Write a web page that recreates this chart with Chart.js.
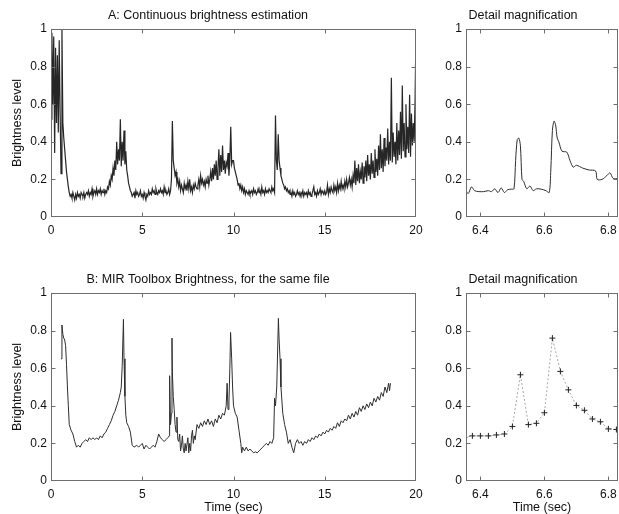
<!DOCTYPE html>
<html lang="en">
<head>
<meta charset="UTF-8">
<title>Brightness estimation</title>
<script src="https://cdn.jsdelivr.net/npm/chart.js"></script>
<style>
    body { margin: 0; background: #fff; }
    #wrap { position: relative; width: 619px; height: 514px; }
    .panel { position: absolute; }
</style>
</head>
<body>
<div id="wrap">
    <div class="panel" style="left:0;top:0;width:430px;height:246px"><canvas id="chartA"></canvas></div>
    <div class="panel" style="left:428px;top:0;width:191px;height:246px"><canvas id="chartAd"></canvas></div>
    <div class="panel" style="left:0;top:264px;width:430px;height:250px"><canvas id="chartB"></canvas></div>
    <div class="panel" style="left:428px;top:264px;width:191px;height:250px"><canvas id="chartBd"></canvas></div>
</div>

<script>
    // A: continuous estimate, one value every 0.05 s from 0 to 20 s
    const stepA = 0.05;
    const brightA = [
        0.52,0.98,0.60,0.96,0.34,0.90,0.50,0.86,0.45,0.94,0.55,0.23,1.00,0.50,0.42,0.36,0.30,0.24,0.20,0.16,
        0.13,0.11,0.12,0.10,0.13,0.11,0.09,0.12,0.10,0.13,0.11,0.12,0.10,0.13,0.12,0.11,0.13,0.10,0.12,0.13,
        0.12,0.14,0.11,0.13,0.12,0.15,0.11,0.13,0.14,0.12,0.15,0.12,0.14,0.13,0.15,0.12,0.14,0.13,0.15,0.12,
        0.14,0.13,0.16,0.15,0.19,0.17,0.22,0.20,0.26,0.22,0.30,0.25,0.40,0.28,0.36,0.30,0.52,0.27,0.40,0.30,
        0.46,0.28,0.35,0.25,0.22,0.18,0.16,0.14,0.13,0.11,0.12,0.13,0.10,0.14,0.12,0.13,0.11,0.12,0.14,0.11,
        0.12,0.10,0.13,0.11,0.09,0.12,0.11,0.14,0.12,0.13,0.12,0.15,0.13,0.14,0.12,0.15,0.13,0.12,0.14,0.13,
        0.15,0.13,0.14,0.12,0.16,0.13,0.14,0.12,0.13,0.15,0.12,0.14,0.20,0.51,0.30,0.26,0.22,0.24,0.18,0.20,
        0.16,0.19,0.14,0.17,0.15,0.13,0.18,0.15,0.17,0.14,0.19,0.15,0.20,0.14,0.16,0.13,0.17,0.15,0.18,0.16,
        0.15,0.17,0.20,0.16,0.22,0.18,0.20,0.17,0.19,0.16,0.20,0.18,0.22,0.17,0.20,0.24,0.19,0.26,0.20,0.28,
        0.22,0.30,0.20,0.26,0.36,0.22,0.33,0.24,0.38,0.25,0.30,0.23,0.29,0.27,0.34,0.22,0.30,0.48,0.28,0.30,
        0.30,0.26,0.24,0.22,0.20,0.17,0.18,0.15,0.17,0.14,0.16,0.13,0.15,0.12,0.14,0.13,0.12,0.14,0.12,0.13,
        0.14,0.12,0.15,0.13,0.14,0.12,0.13,0.15,0.13,0.14,0.12,0.16,0.13,0.14,0.12,0.15,0.13,0.14,0.13,0.15,
        0.14,0.13,0.16,0.14,0.15,0.13,0.54,0.30,0.25,0.44,0.30,0.26,0.22,0.20,0.18,0.17,0.15,0.16,0.14,0.15,
        0.13,0.14,0.12,0.13,0.11,0.14,0.12,0.13,0.11,0.12,0.14,0.12,0.13,0.11,0.13,0.12,0.14,0.11,0.13,0.12,
        0.13,0.11,0.14,0.12,0.13,0.11,0.12,0.14,0.16,0.12,0.13,0.11,0.14,0.12,0.13,0.15,0.12,0.14,0.13,0.12,
        0.14,0.12,0.13,0.17,0.12,0.15,0.13,0.16,0.14,0.13,0.17,0.14,0.16,0.13,0.18,0.14,0.17,0.15,0.19,0.15,
        0.17,0.15,0.19,0.16,0.20,0.16,0.18,0.21,0.17,0.20,0.16,0.22,0.18,0.30,0.17,0.26,0.19,0.28,0.18,0.24,
        0.20,0.29,0.18,0.27,0.21,0.30,0.19,0.33,0.22,0.28,0.20,0.34,0.23,0.30,0.21,0.36,0.24,0.31,0.22,0.38,
        0.25,0.44,0.26,0.36,0.24,0.42,0.27,0.37,0.30,0.47,0.28,0.40,0.30,0.74,0.29,0.45,0.32,0.40,0.28,0.50,
        0.30,0.46,0.33,0.56,0.31,0.70,0.35,0.50,0.32,0.60,0.36,0.48,0.34,0.65,0.32,0.55,0.38,0.50,0.40,0.62,
        1.00
    ];

    // A detail around 6.4 - 6.8 s
    const detailTimeA = [6.352,6.362,6.372,6.382,6.395,6.41,6.425,6.435,6.445,6.455,6.465,6.475,6.485,6.497,6.505,
        6.51,6.515,6.52,6.525,6.53,6.535,6.545,6.555,6.565,6.575,6.59,6.605,6.615,6.62,6.625,6.63,6.635,6.64,
        6.645,6.655,6.67,6.68,6.69,6.70,6.72,6.74,6.76,6.765,6.78,6.795,6.805,6.815,6.83];
    const detailBrightA = [0.145,0.125,0.16,0.14,0.135,0.135,0.14,0.135,0.15,0.13,0.155,0.13,0.145,0.148,0.15,
        0.30,0.41,0.42,0.38,0.20,0.19,0.15,0.165,0.14,0.15,0.148,0.14,0.13,0.25,0.46,0.51,0.49,0.42,
        0.40,0.35,0.345,0.30,0.265,0.275,0.26,0.25,0.245,0.20,0.20,0.22,0.235,0.205,0.205];

    // B: MIR Toolbox brightness
    const timeB = [0.55,0.6,0.65,0.7,0.75,0.8,0.85,0.9,0.95,1.0,1.1,1.2,1.3,1.4,1.5,1.6,1.7,1.8,1.9,2.0,
        2.1,2.2,2.3,2.4,2.5,2.6,2.7,2.8,2.9,3.0,3.1,3.2,3.3,3.4,3.5,3.6,3.7,3.8,3.85,3.9,3.97,4.0,4.05,4.1,4.15,
        4.25,4.35,4.45,4.55,4.7,4.8,4.9,5.0,5.1,5.2,5.3,5.4,5.5,5.6,5.7,5.8,5.9,6.0,6.1,6.2,6.3,6.4,6.48,6.5,
        6.55,6.6,6.63,6.65,6.7,6.75,6.8,6.85,6.9,6.95,7.0,7.05,7.1,7.15,7.2,7.25,7.3,7.35,7.4,7.5,7.55,7.6,7.65,
        7.7,7.75,7.8,7.85,7.9,8.0,8.1,8.2,8.3,8.4,8.5,8.6,8.7,8.8,8.9,9.0,9.1,9.2,9.3,9.4,9.5,9.6,9.65,9.7,9.75,
        9.8,9.84,9.9,9.95,10.0,10.1,10.2,10.3,10.4,10.45,10.5,10.6,10.7,10.8,10.9,11.0,11.1,11.2,11.3,11.4,11.5,
        11.6,11.7,11.8,11.9,12.0,12.1,12.2,12.25,12.3,12.37,12.46,12.5,12.55,12.6,12.7,12.8,12.9,13.0,13.1,13.2,
        13.3,13.4,13.5,13.6,13.7,13.8,13.9,14.0,14.1,14.2,14.3,14.4,14.5,14.6,14.7,14.8,14.9,15.0,15.1,15.2,15.3,
        15.4,15.5,15.6,15.7,15.8,15.9,16.0,16.1,16.2,16.3,16.4,16.5,16.6,16.7,16.8,16.9,17.0,17.1,17.2,17.3,17.4,
        17.5,17.6,17.7,17.8,17.9,18.0,18.1,18.2,18.3,18.4,18.5,18.55,18.6];
    const brightB = [0.65,0.83,0.78,0.76,0.75,0.72,0.62,0.50,0.40,0.30,0.27,0.25,0.21,0.18,0.19,0.18,0.20,0.21,0.22,0.21,
        0.23,0.22,0.23,0.22,0.23,0.22,0.24,0.23,0.25,0.26,0.28,0.30,0.32,0.35,0.37,0.40,0.43,0.47,0.50,0.61,0.86,0.65,0.45,0.35,0.31,
        0.29,0.26,0.19,0.18,0.19,0.18,0.19,0.20,0.17,0.19,0.18,0.17,0.18,0.19,0.18,0.21,0.25,0.23,0.22,0.21,0.22,0.23,0.24,0.56,
        0.30,0.36,0.76,0.58,0.45,0.38,0.30,0.26,0.34,0.22,0.21,0.25,0.16,0.19,0.24,0.17,0.15,0.20,0.16,0.23,0.15,0.20,0.16,
        0.24,0.27,0.20,0.24,0.22,0.30,0.28,0.31,0.29,0.32,0.30,0.33,0.30,0.32,0.29,0.33,0.31,0.35,0.33,0.36,0.35,0.40,0.52,0.38,0.42,
        0.60,0.79,0.65,0.50,0.40,0.36,0.34,0.27,0.20,0.15,0.18,0.16,0.18,0.16,0.17,0.16,0.15,0.155,0.15,0.16,0.17,
        0.18,0.19,0.20,0.19,0.21,0.20,0.23,0.44,0.40,0.50,0.865,0.75,0.65,0.50,0.36,0.30,0.26,0.20,0.22,0.18,
        0.15,0.20,0.22,0.20,0.21,0.19,0.21,0.20,0.22,0.21,0.23,0.22,0.24,0.23,0.25,0.24,0.26,0.25,0.27,0.26,0.28,
        0.27,0.29,0.28,0.31,0.29,0.32,0.31,0.33,0.32,0.35,0.33,0.36,0.34,0.37,0.35,0.39,0.37,0.40,0.38,0.41,0.39,
        0.42,0.40,0.44,0.42,0.45,0.43,0.47,0.45,0.50,0.47,0.52,0.48,0.52];

    // B detail: frames every 0.025 s
    const detailTimeB = [6.35,6.375,6.4,6.425,6.45,6.475,6.5,6.525,6.55,6.575,6.6,6.625,6.65,6.675,6.7,6.725,6.75,6.775,6.8,6.825];
    const detailBrightB = [0.232,0.24,0.24,0.24,0.245,0.25,0.29,0.565,0.30,0.307,0.363,0.76,0.583,0.485,0.402,0.376,0.33,0.315,0.277,0.274];

    const yTicks = [0, 0.2, 0.4, 0.6, 0.8, 1];
    const xTicksFull = [0, 5, 10, 15, 20];
    const xTicksDetail = [6.4, 6.6, 6.8];

    const FONT = 'Liberation Sans, Arial, Helvetica, sans-serif';
    Chart.defaults.font.family = FONT;
    Chart.defaults.font.size = 12;
    Chart.defaults.color = '#111';

    // MATLAB style box with inward ticks
    const boxPlugin = {
        id: 'matlabBox',
        afterDatasetsDraw(chart) {
            const { ctx, chartArea: a, scales } = chart;
            const L = Math.round(a.left) + 0.5, R = Math.round(a.right) - 0.5;
            const T = Math.round(a.top) + 0.5, B = Math.round(a.bottom) - 0.5;
            ctx.save();
            ctx.strokeStyle = '#6e6e6e';
            ctx.lineWidth = 1;
            ctx.strokeRect(L, T, R - L, B - T);
            ctx.beginPath();
            scales.x.ticks.forEach(t => {
                const px = Math.round(scales.x.getPixelForValue(t.value)) + 0.5;
                if (px <= L + 1 || px >= R - 1) return;
                ctx.moveTo(px, B); ctx.lineTo(px, B - 4);
                ctx.moveTo(px, T); ctx.lineTo(px, T + 4);
            });
            scales.y.ticks.forEach(t => {
                const py = Math.round(scales.y.getPixelForValue(t.value)) + 0.5;
                if (py <= T + 1 || py >= B - 1) return;
                ctx.moveTo(L, py); ctx.lineTo(L + 4, py);
                ctx.moveTo(R, py); ctx.lineTo(R - 4, py);
            });
            ctx.stroke();
            ctx.restore();
        }
    };

    function toPoints(xs, ys) {
        return xs.map((x, i) => ({ x: x, y: ys[i] }));
    }

    function makeChart(id, opts) {
        const xScale = {
            type: 'linear',
            min: opts.xmin,
            max: opts.xmax,
            grid: { display: false, drawTicks: false },
            border: { display: false },
            ticks: { padding: 6, maxRotation: 0, autoSkip: false, color: '#111' },
            afterBuildTicks: s => { s.ticks = opts.xticks.map(v => ({ value: v })); },
            afterFit: s => { s.height = opts.xh; s.paddingLeft = 0; s.paddingRight = 0; },
            title: opts.xtitle ? { display: true, text: opts.xtitle, color: '#111', font: { size: 12.5 }, padding: { top: 3, bottom: -1.5 } } : { display: false }
        };
        const yScale = {
            min: 0,
            max: 1,
            grid: { display: false, drawTicks: false },
            border: { display: false },
            ticks: { padding: 4, color: '#111', callback: v => String(Number(v.toFixed(2))) },
            afterBuildTicks: s => { s.ticks = yTicks.map(v => ({ value: v })); },
            afterFit: s => { s.width = opts.yw; s.paddingTop = 0; s.paddingBottom = 0; },
            title: opts.ytitle ? { display: true, text: opts.ytitle, color: '#111', font: { size: 12.5 }, padding: { top: 10, bottom: 0 } } : { display: false }
        };
        return new Chart(document.getElementById(id), {
            type: 'line',
            data: { datasets: opts.datasets },
            options: {
                responsive: true,
                maintainAspectRatio: false,
                animation: false,
                layout: { autoPadding: false, padding: { left: 0, right: opts.rpad, top: 0, bottom: 0 } },
                plugins: {
                    legend: { display: false },
                    tooltip: { enabled: false },
                    title: { display: true, text: opts.title, color: '#111', font: { size: 12.5, weight: 'normal' }, padding: { top: 8, bottom: 6 } }
                },
                scales: { x: xScale, y: yScale }
            },
            plugins: [boxPlugin]
        });
    }

    const timesA = brightA.map((_, i) => i * stepA);

    makeChart('chartA', {
        title: 'A: Continuous brightness estimation',
        ytitle: 'Brightness level',
        xmin: 0, xmax: 20, xticks: xTicksFull, xh: 29, yw: 51, rpad: 14,
        datasets: [{ data: toPoints(timesA, brightA), borderColor: '#262626', borderWidth: 1.2, pointRadius: 0, tension: 0 }]
    });

    makeChart('chartAd', {
        title: 'Detail magnification',
        xmin: 6.355, xmax: 6.83, xticks: xTicksDetail, xh: 29, yw: 38, rpad: 1,
        datasets: [{ data: toPoints(detailTimeA, detailBrightA), borderColor: '#2e2e2e', borderWidth: 1, pointRadius: 0, tension: 0.3 }]
    });

    makeChart('chartB', {
        title: 'B: MIR Toolbox Brightness, for the same file',
        ytitle: 'Brightness level',
        xtitle: 'Time (sec)',
        xmin: 0, xmax: 20, xticks: xTicksFull, xh: 33, yw: 51, rpad: 14,
        datasets: [{ data: toPoints(timeB, brightB), borderColor: '#2e2e2e', borderWidth: 1, pointRadius: 0, tension: 0 }]
    });

    makeChart('chartBd', {
        title: 'Detail magnification',
        xtitle: 'Time (sec)',
        xmin: 6.355, xmax: 6.83, xticks: xTicksDetail, xh: 33, yw: 38, rpad: 1,
        datasets: [{
            data: toPoints(detailTimeB, detailBrightB),
            borderColor: '#a8a8a8', borderWidth: 1, borderDash: [2, 2],
            pointStyle: 'cross', pointRadius: 3, pointBorderColor: '#222', pointBorderWidth: 1,
            pointBackgroundColor: '#222', tension: 0
        }]
    });
</script>
</body>
</html>
